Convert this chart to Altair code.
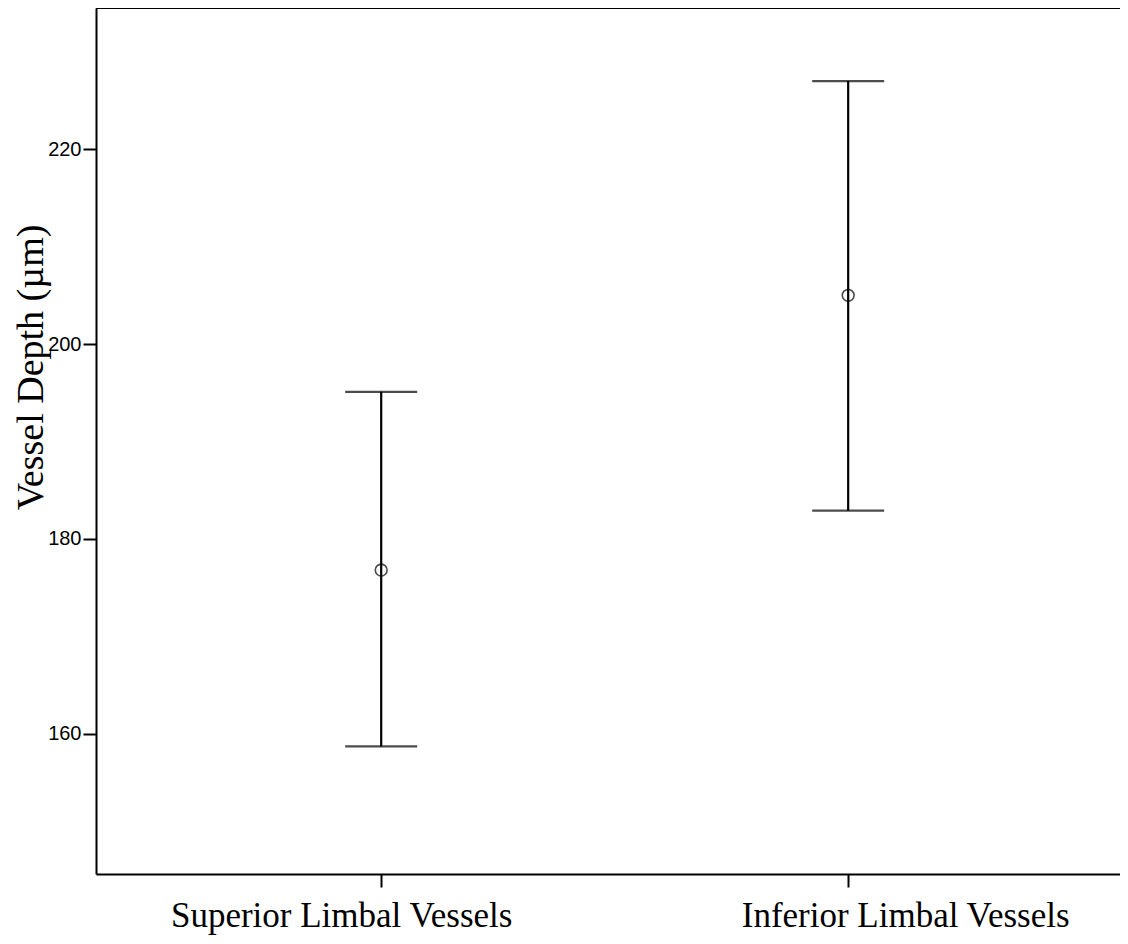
import altair as alt
import pandas as pd

groups = ["Superior Limbal Vessels", "Inferior Limbal Vessels"]
means = [176.8, 205.0]
lower = [158.7, 182.9]
upper = [195.1, 227.0]
y_ticks = [160, 180, 200, 220]

df = pd.DataFrame({"group": groups, "mean": means, "lower": lower, "upper": upper})

x_enc = alt.X(
    "group:N",
    sort=groups,
    scale=alt.Scale(type="point", padding=0.5964, align=0.512),
    axis=alt.Axis(
        title=None,
        labelAngle=0,
        labelFont="Liberation Serif",
        labelFontSize=35,
        labelColor="black",
        labelPadding=11,
        labelLimit=0,
        labelOffset={"condition": {"test": "datum.value === 'Superior Limbal Vessels'", "value": -40}, "value": 57},
        domainColor="black",
        domainWidth=2,
        tickColor="black",
        tickWidth=2,
        tickSize=13,
    ),
)

y_scale = alt.Scale(domain=[145.6, 234.5], nice=False, zero=False)
y_axis = alt.Axis(
    title="Vessel Depth (µm)",
    values=y_ticks,
    grid=False,
    labelFont="Liberation Sans",
    labelFontSize=20,
    labelColor="black",
    labelPadding=2,
    domainColor="black",
    domainWidth=2,
    tickColor="black",
    tickWidth=2,
    tickSize=13,
    titleFont="Liberation Serif",
    titleFontSize=38,
    titleFontWeight="normal",
    titleColor="black",
    titleX=-65,
    titleY=359,
    titleBaseline="middle",
    titleAlign="center",
)

base = alt.Chart(df)

rules = base.mark_rule(color="black", strokeWidth=2.2).encode(
    x=x_enc,
    y=alt.Y("lower:Q", scale=y_scale, axis=y_axis),
    y2="upper:Q",
)
caps_top = base.mark_tick(color="black", size=72, thickness=2.2).encode(
    x=x_enc, y=alt.Y("upper:Q", scale=y_scale)
)
caps_bot = base.mark_tick(color="black", size=72, thickness=2.2).encode(
    x=x_enc, y=alt.Y("lower:Q", scale=y_scale)
)
points = base.mark_point(shape="circle", filled=False, color="black", size=140, strokeWidth=1.6).encode(
    x=x_enc, y=alt.Y("mean:Q", scale=y_scale)
)
top_line = alt.Chart(df).mark_rule(color="black", strokeWidth=2).encode(y=alt.value(0))

chart = (
    alt.layer(rules, caps_top, caps_bot, points, top_line)
    .properties(
        width=1024,
        height=866,
        autosize=alt.AutoSizeParams(type="none"),
        padding={"left": 88, "top": 0, "right": 0, "bottom": 62},
    )
    .configure_view(stroke=None)
    .configure(background="white")
)

chart.save("out.html", embed_options={"renderer": "svg", "actions": False})
